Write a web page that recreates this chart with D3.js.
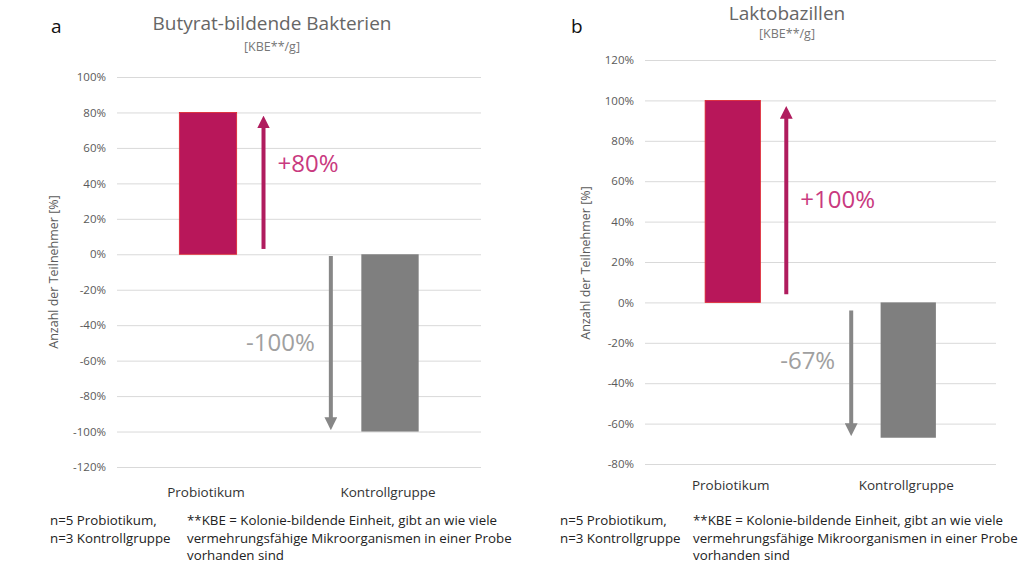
<!DOCTYPE html>
<html>
<head>
<meta charset="utf-8">
<script src="https://cdn.jsdelivr.net/npm/d3@7"></script>
<style>
  body { margin: 0; background: #fff; }
  svg { display: block; font-family: "Open Sans", sans-serif; }
</style>
</head>
<body>
<div id="charts"></div>
<script>
// data for both panels
let categories = ["Probiotikum", "Kontrollgruppe"];
let valuesA = [80, -100];
let valuesB = [100, -67];
let ticksA = [100, 80, 60, 40, 20, 0, -20, -40, -60, -80, -100, -120];
let ticksB = [120, 100, 80, 60, 40, 20, 0, -20, -40, -60, -80];
// arrows: [from, to] in % for each group
let arrowsA = [[3, 78], [-1, -99]];
let arrowsB = [[4, 97], [-4, -66]];
let changeLabelsA = ["+80%", "-100%"];
let changeLabelsB = ["+100%", "-67%"];
let footLeft = ["n=5 Probiotikum,", "n=3 Kontrollgruppe"];
let footRight = ["**KBE = Kolonie-bildende Einheit, gibt an wie viele",
  "vermehrungsfähige Mikroorganismen in einer Probe",
  "vorhanden sind"];

let w = 1024;
let h = 569;
let barColors = ["#b8175a", "#7f7f7f"];
let arrowColors = ["#b01c5e", "#878787"];
let labelColors = ["#c93a80", "#a0a0a0"];

let viz = d3.select("#charts")
  .append("svg")
  .attr("width", w)
  .attr("height", h);

let defs = viz.append("defs");
arrowColors.forEach(function (c, i) {
  defs.append("marker")
    .attr("id", "head" + i)
    .attr("viewBox", "0 0 10 10")
    .attr("refX", 5)
    .attr("refY", 5)
    .attr("markerWidth", 3.2)
    .attr("markerHeight", 3.2)
    .attr("markerUnits", "strokeWidth")
    .attr("orient", "auto")
    .append("path")
    .attr("d", "M0,0 L10,5 L0,10 Z")
    .attr("fill", c);
});

function panel(cfg) {
  let g = viz.append("g").classed("panel", true);

  let yScale = d3.scaleLinear()
    .domain([d3.min(cfg.ticks), d3.max(cfg.ticks)])
    .range([cfg.bottom, cfg.top]);
  let xScale = d3.scaleBand()
    .domain(categories)
    .range([cfg.left, cfg.right])
    .padding(0);
  let step = xScale.step();
  let barW = step * 0.315;

  // letter
  g.append("text")
    .attr("x", cfg.letterX)
    .attr("y", 33)
    .attr("font-size", 19)
    .attr("fill", "#111")
    .text(cfg.letter);

  // title
  g.append("text")
    .attr("x", cfg.titleX)
    .attr("y", cfg.titleY)
    .attr("text-anchor", "middle")
    .attr("font-size", 19)
    .attr("fill", "#666")
    .text(cfg.title);
  g.append("text")
    .attr("x", cfg.titleX)
    .attr("y", cfg.titleY + cfg.subGap)
    .attr("text-anchor", "middle")
    .attr("font-size", 12.5)
    .attr("fill", "#777")
    .text("[KBE**/g]");

  // y axis with gridlines
  let yAxis = d3.axisLeft(yScale)
    .tickValues(cfg.ticks)
    .tickSize(-(cfg.right - cfg.left))
    .tickPadding(11)
    .tickFormat(function (d) { return d + "%"; });
  let yAxisGroup = g.append("g")
    .classed("yAxis", true)
    .attr("transform", "translate(" + cfg.left + ",0)")
    .call(yAxis);
  yAxisGroup.select(".domain").remove();
  yAxisGroup.selectAll("line")
    .attr("stroke", "#d9d9d9")
    .attr("stroke-width", 1);
  yAxisGroup.selectAll("text")
    .attr("font-size", 11.5)
    .attr("font-family", "'Open Sans', sans-serif")
    .attr("fill", "#595959");

  // y title
  g.append("text")
    .attr("transform", "translate(" + cfg.yTitleX + "," + cfg.yTitleY + ") rotate(-90)")
    .attr("text-anchor", "middle")
    .attr("font-size", 12.5)
    .attr("fill", "#595959")
    .text(cfg.yTitle);

  // bars
  g.selectAll(".bar")
    .data(cfg.values)
    .enter()
    .append("rect")
    .attr("class", "bar")
    .attr("x", function (d, i) { return xScale(categories[i]) + step / 2 - barW / 2; })
    .attr("width", barW)
    .attr("y", function (d) { return yScale(Math.max(d, 0)); })
    .attr("height", function (d) { return Math.abs(yScale(d) - yScale(0)); })
    .attr("fill", function (d, i) { return barColors[i]; })
    .attr("stroke", function (d, i) { return i == 0 ? "#e0262f" : "none"; })
    .attr("stroke-width", 0.8);

  // arrows
  let arrowOffset = [0.305, -0.325];
  g.selectAll(".arrow")
    .data(cfg.arrows)
    .enter()
    .append("line")
    .attr("class", "arrow")
    .attr("x1", function (d, i) { return xScale(categories[i]) + step / 2 + arrowOffset[i] * step; })
    .attr("x2", function (d, i) { return xScale(categories[i]) + step / 2 + arrowOffset[i] * step; })
    .attr("y1", function (d) { return yScale(d[0]); })
    .attr("y2", function (d) { return yScale(d[1]) + (d[1] > 0 ? 6 : -6); })
    .attr("stroke", function (d, i) { return arrowColors[i]; })
    .attr("stroke-width", 4)
    .attr("marker-end", function (d, i) { return "url(#head" + i + ")"; });

  // change labels
  g.selectAll(".change")
    .data(cfg.changes)
    .enter()
    .append("text")
    .attr("class", "change")
    .attr("x", function (d, i) {
      let ax = xScale(categories[i]) + step / 2 + arrowOffset[i] * step;
      return i == 0 ? ax + 14 : ax - 16;
    })
    .attr("y", function (d, i) { return yScale(cfg.changeY[i]); })
    .attr("dy", "0.35em")
    .attr("text-anchor", function (d, i) { return i == 0 ? "start" : "end"; })
    .attr("font-size", 24)
    .attr("fill", function (d, i) { return labelColors[i]; })
    .text(function (d) { return d; });

  // category labels
  g.selectAll(".cat")
    .data(categories)
    .enter()
    .append("text")
    .attr("class", "cat")
    .attr("x", function (d) { return xScale(d) + step / 2 - 2; })
    .attr("y", cfg.catY)
    .attr("text-anchor", "middle")
    .attr("font-size", 13.5)
    .attr("fill", "#333")
    .text(function (d) { return d; });

  // footnotes
  footLeft.forEach(function (t, i) {
    g.append("text")
      .attr("x", cfg.footX)
      .attr("y", 525 + i * 17.5)
      .attr("font-size", 13.3)
      .attr("fill", "#222")
      .text(t);
  });
  footRight.forEach(function (t, i) {
    g.append("text")
      .attr("x", cfg.footX2)
      .attr("y", 525 + i * 17.5)
      .attr("font-size", 13.3)
      .attr("fill", "#222")
      .text(t);
  });
}

panel({
  letter: "a", letterX: 51,
  title: "Butyrat-bildende Bakterien", titleX: 272, titleY: 30, subGap: 21,
  yTitle: "Anzahl der Teilnehmer [%]", yTitleX: 58, yTitleY: 272,
  ticks: ticksA, values: valuesA, arrows: arrowsA,
  changes: changeLabelsA, changeY: [51, -50],
  left: 117, right: 481, top: 77, bottom: 467,
  catY: 497, footX: 50, footX2: 187
});

panel({
  letter: "b", letterX: 571,
  title: "Laktobazillen", titleX: 787, titleY: 20, subGap: 18,
  yTitle: "Anzahl der Teilnehmer  [%]", yTitleX: 590, yTitleY: 263,
  ticks: ticksB, values: valuesB, arrows: arrowsB,
  changes: changeLabelsB, changeY: [51, -29],
  left: 645, right: 996, top: 60, bottom: 464,
  catY: 490, footX: 560, footX2: 693
});
</script>
</body>
</html>
